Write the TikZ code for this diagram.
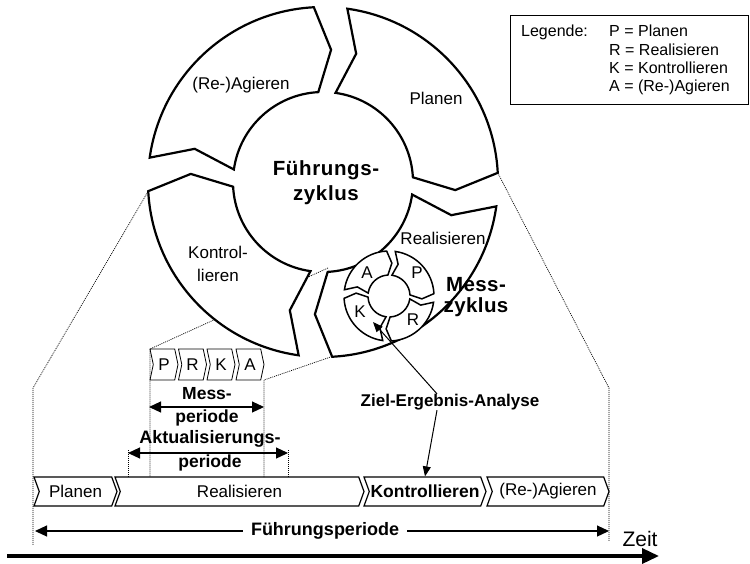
\documentclass[tikz,border=0pt]{standalone}
\usepackage{fontspec}
\setmainfont{Liberation Sans}
\usetikzlibrary{arrows.meta,calc,shapes.symbols}
\newcommand\ringseg[7]{%
  \draw[#1] ($(#2)+(#5:#4)$) arc[start angle=#5, end angle=#6, radius=#4]
    -- ($(#2)+({#6-#7}:{(#3+#4)/2})$) -- ($(#2)+(#6:#3)$)
    arc[start angle=#6, end angle=#5, radius=#3]
    -- ($(#2)+({#5-#7}:{(#3+#4)/2})$) -- cycle;}
\begin{document}
\begin{tikzpicture}[x=1pt,y=1pt,
  bigseg/.style={draw, fill=white, line width=2.2pt},
  smallseg/.style={draw, fill=white, line width=1.5pt},
  lbl/.style={font=\fontsize{17}{23}\selectfont, align=center, inner sep=0pt},
  blbl/.style={font=\bfseries\fontsize{17.5}{21}\selectfont, align=center, inner sep=0pt},
  hlbl/.style={font=\bfseries\fontsize{20.5}{25}\selectfont\addfontfeature{LetterSpace=3}, align=center, inner sep=0pt},
  zoomline/.style={line width=0.7pt, dash pattern=on 1pt off 1pt},
  chev/.style={signal, signal from=west, signal to=east, signal pointer angle=140,
    draw, line width=1.2pt, minimum height=29pt, inner sep=0pt,
    font=\fontsize{17}{17}\selectfont},
  pbox/.style={signal, signal from=west, signal to=east, signal pointer angle=156,
    draw, line width=0.8pt, minimum height=31pt, minimum width=28pt, inner sep=0pt,
    font=\fontsize{17}{17}\selectfont},
  dblarrow/.style={line width=1.2pt, {Triangle[length=12pt,width=11pt]}-{Triangle[length=12pt,width=11pt]}},
  thinarrow/.style={line width=1pt, -{Triangle[length=10pt,width=8pt]}}
]
\useasboundingbox (0,0) rectangle (750,-563);

% centres
\coordinate (BC) at (323,-182);
\coordinate (SC) at (389,-296);

% zoom (dotted) lines
\coordinate (bl) at ($(BC)+(-177:175)$);
\coordinate (br) at ($(BC)+(3:175)$);
\coordinate (blk) at (33,-388);
\coordinate (blb) at (33,-545);
\coordinate (brk) at (609,-388);
\coordinate (brb) at (609,-541);
\draw[zoomline] (bl) -- (blk) -- (blb);
\draw[zoomline] (br) -- (brk) -- (brb);

\coordinate (su) at (328,-268);
\coordinate (pnw) at (150,-349);
\coordinate (pnwb) at (150,-477);
\coordinate (sl) at (345,-352);
\coordinate (ase) at (264,-380);
\coordinate (aseb) at (264,-477);
\draw[zoomline] (su) -- (pnw) -- (pnwb);
\draw[zoomline] (sl) -- (ase) -- (aseb);
\coordinate (akl) at (128,-450);
\coordinate (aklb) at (128,-477);
\coordinate (akr) at (288,-450);
\coordinate (akrb) at (288,-477);
\draw[zoomline] (akl) -- (aklb);
\draw[zoomline] (akr) -- (akrb);

% big cycle
\ringseg{bigseg}{BC}{90}{175}{82}{3}{6.5}
\ringseg{bigseg}{BC}{90}{175}{-8}{-87}{6.5}
\ringseg{bigseg}{BC}{90}{175}{-98}{-177}{6.5}
\ringseg{bigseg}{BC}{90}{175}{172}{93}{6.5}

\node[lbl] (tA) at (241,-85) {(Re-)Agieren};
\node[lbl] (tP) at (436,-98) {Planen};
\node[lbl] (tK) at (218,-263.5) {Kontrol-\\lieren};
\node[lbl] (tR) at (443,-238) {Realisieren};
\node[hlbl] (fz) at (326,-182.5) {Führungs-\\zyklus};

% small cycle
\ringseg{smallseg}{SC}{21}{45}{82}{3}{8}
\ringseg{smallseg}{SC}{21}{45}{-8}{-87}{8}
\ringseg{smallseg}{SC}{21}{45}{-98}{-177}{8}
\ringseg{smallseg}{SC}{21}{45}{172}{93}{8}

\node[lbl] (sA) at (367,-273) {A};
\node[lbl] (sP) at (417,-273) {P};
\node[lbl] (sK) at (360,-312) {K};
\node[lbl] (sR) at (413,-320) {R};
\node[hlbl, font=\bfseries\fontsize{20.5}{21}\selectfont\addfontfeature{LetterSpace=2}] (mz) at (476,-297) {Mess-\\zyklus};

% PRKA boxes
\node[pbox] (bP) at (164,-364.5) {P};
\node[pbox] (bR) at (192.5,-364.5) {R};
\node[pbox] (bK) at (221,-364.5) {K};
\node[pbox] (bA) at (250,-364.5) {A};

% Messperiode
\node[blbl] (mp1) at (207,-394) {Mess-};
\node[blbl] (mp2) at (207,-418) {periode};
\coordinate (mL) at (149,-407);
\coordinate (mR) at (264,-407);
\draw[dblarrow] (mL) -- (mR);

% Aktualisierungsperiode
\node[blbl, font=\bfseries\fontsize{18}{18}\selectfont] (ap1) at (210,-439) {Aktualisierungs-};
\node[blbl] (ap2) at (210,-463) {periode};
\coordinate (aL) at (128,-453);
\coordinate (aR) at (288,-453);
\draw[dblarrow] (aL) -- (aR);

% bottom chevrons
\node[chev, minimum width=83pt] (cP) at (75.5,-491.5) {Planen};
\node[chev, minimum width=249pt] (cR) at (239.5,-491.5) {Realisieren};
\node[chev, minimum width=122pt, font=\bfseries\fontsize{17.5}{17.5}\selectfont] (cK) at (425,-491.5) {Kontrollieren};
\node[chev, minimum width=122pt] (cA) at (548,-491.5) {(Re-)Agieren};

% Ziel-Ergebnis-Analyse
\node[blbl, font=\bfseries\fontsize{17}{17}\selectfont] (zea) at (450,-402) {Ziel-Ergebnis-Analyse};
\coordinate (ktip) at (373,-322);
\draw[thinarrow] ($(zea.north)+(-13,0)$) -- (ktip);
\draw[thinarrow] ($(zea.south)+(-13,0)$) -- (cK.north);

% Fuehrungsperiode
\coordinate (fL) at (35,-531);
\coordinate (fR) at (609,-531);
\draw[dblarrow] (fL) -- (fR);
\node[blbl, fill=white, inner xsep=8pt, inner ysep=2pt, font=\bfseries\fontsize{18}{18}\selectfont] (fp) at (325,-531) {Führungsperiode};

% Zeit
\coordinate (z0) at (7,-556);
\coordinate (z1) at (659,-556);
\draw[line width=3.5pt, -{Triangle[length=17pt,width=15pt]}] (z0) -- (z1);
\node[lbl, font=\fontsize{21}{21}\selectfont] (zt) at (640,-539) {Zeit};

% legend
\node[draw, line width=1pt, minimum width=238pt, minimum height=89pt, inner sep=0pt] (leg) at (629,-60) {};
\node[anchor=west, inner sep=0pt, font=\fontsize{16}{16}\selectfont] (legT) at (521,-32) {Legende:};
\node[anchor=north west, align=left, inner sep=0pt, font=\fontsize{16}{18.4}\selectfont] (legL) at (609,-25) {P = Planen\\R = Realisieren\\K = Kontrollieren\\A = (Re-)Agieren};
\end{tikzpicture}
\end{document}
